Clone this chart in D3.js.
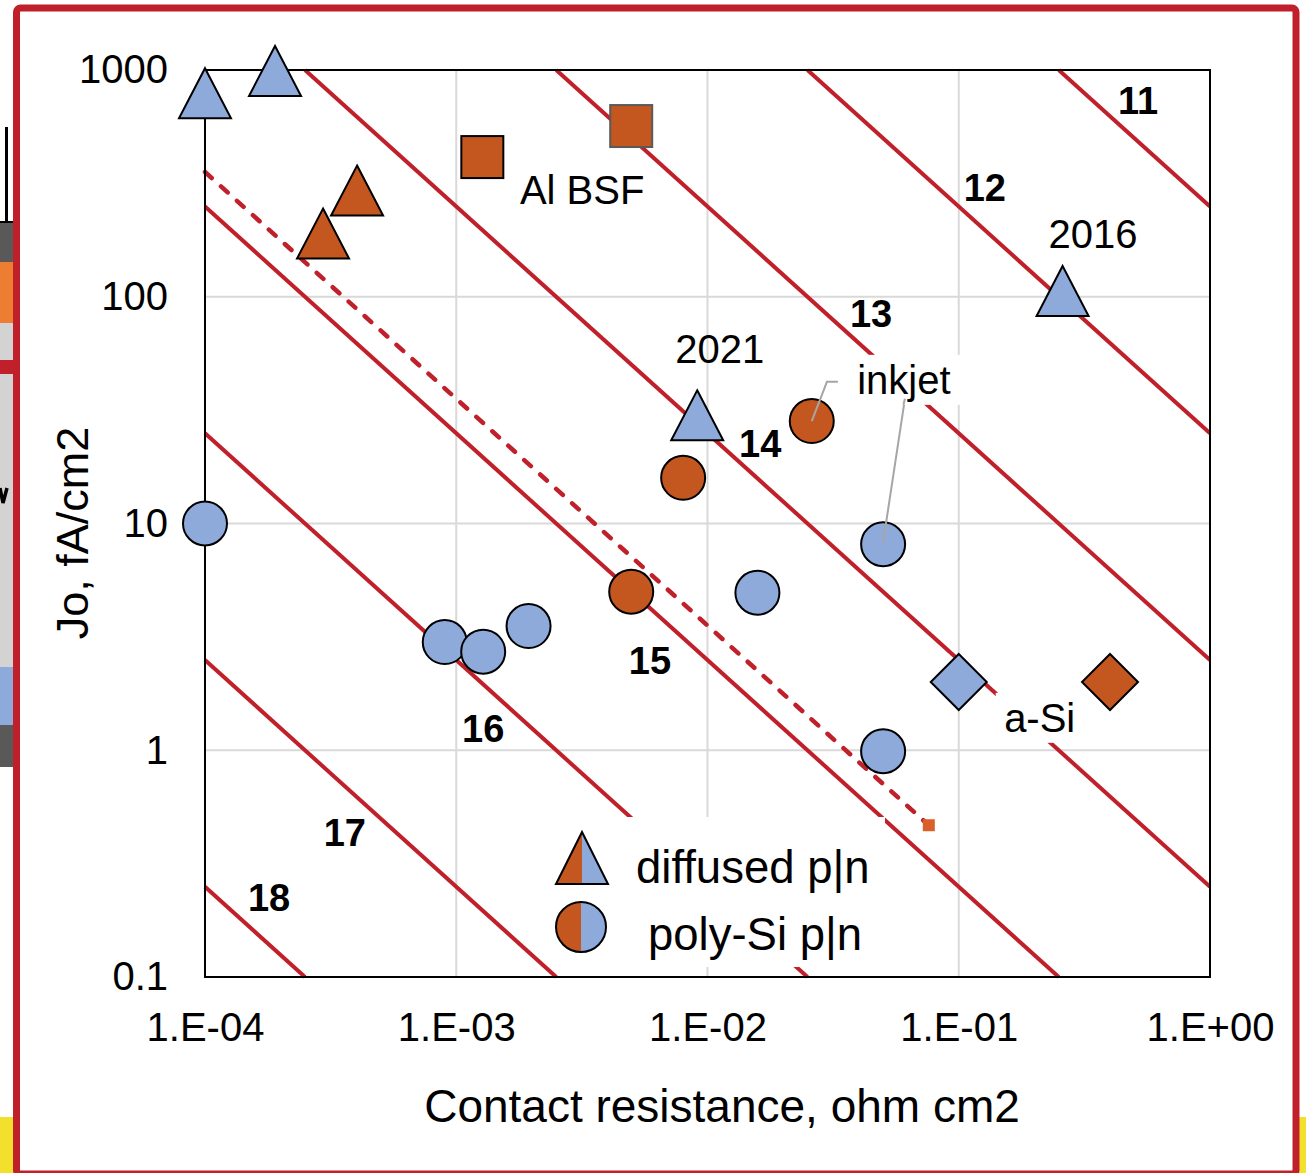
<!DOCTYPE html>
<html>
<head>
<meta charset="utf-8">
<script src="https://cdn.jsdelivr.net/npm/d3@7"></script>
<style>
  body { margin: 0; background: #fff; }
  text { font-family: "Liberation Sans", Arial, sans-serif; fill: #000; }
</style>
</head>
<body>
<div id="chart"></div>
<script>
// ---- data (contact resistance in ohm cm2, Jo in fA/cm2) ----
var xTicks = [1e-4, 1e-3, 1e-2, 1e-1, 1];
var yTicks = [0.1, 1, 10, 100, 1000];

// iso lines: Rc * Jo = const
var isoProducts = [2.5e-5, 2.5e-4, 2.5e-3, 2.5e-2, 0.25, 2.5, 25, 250];
var isoLabels = [
  {text: "18", x: 1.8e-4, y: 0.225},
  {text: "17", x: 3.6e-4, y: 0.436},
  {text: "16", x: 1.28e-3, y: 1.25},
  {text: "15", x: 5.9e-3, y: 2.5},
  {text: "14", x: 0.0162, y: 22.6},
  {text: "13", x: 0.0448, y: 84.7},
  {text: "12", x: 0.127, y: 305},
  {text: "11", x: 0.517, y: 738}
];
var dashedLine = [[1e-4, 355], [0.076, 0.467]];

var blueTriangles   = [[1e-4, 790], [1.9e-4, 990], [9.1e-3, 30], [0.259, 106]];
var orangeTriangles = [[2.95e-4, 190], [4.03e-4, 294]];
var orangeSquares   = [[1.27e-3, 413], [4.97e-3, 566]];
var blueCircles     = [[1e-4, 10], [9e-4, 3.0], [1.28e-3, 2.72], [1.94e-3, 3.53],
                       [0.0158, 4.95], [0.05, 8.1], [0.05, 0.99]];
var orangeCircles   = [[4.97e-3, 5.0], [8.0e-3, 15.9], [0.026, 28.3]];
var blueDiamonds    = [[0.1, 2.0]];
var orangeDiamonds  = [[0.4, 2.0]];

var annotations = [
  {text: "Al BSF", x: 3.17e-3, y: 296},
  {text: "2021",   x: 0.0112,  y: 58.9},
  {text: "2016",   x: 0.342,   y: 189},
  {text: "inkjet", x: 0.0605,  y: 43},
  {text: "a-Si",   x: 0.21,    y: 1.39}
];
var legendItems = ["diffused p|n", "poly-Si p|n"];

// ---- setup ----
var W = 1306, H = 1173;
var RED = "#c0202a", BLUE = "#8eaadb", ORANGE = "#c4571f";

var svg = d3.select("#chart").append("svg")
  .attr("width", W).attr("height", H);

var x = d3.scaleLog().domain([1e-4, 1]).range([205, 1210]);
var y = d3.scaleLog().domain([0.1, 1000]).range([977, 70]);

// ---- bits of the neighbouring slide, outside the frame ----
var deco = svg.append("g");
deco.append("rect").attr("x", 5).attr("y", 127).attr("width", 3).attr("height", 96).attr("fill", "#000");
deco.append("rect").attr("x", 0).attr("y", 222).attr("width", 14).attr("height", 40).attr("fill", "#595959");
deco.append("rect").attr("x", 0).attr("y", 221).attr("width", 14).attr("height", 2).attr("fill", "#000");
deco.append("rect").attr("x", 0).attr("y", 262).attr("width", 14).attr("height", 61).attr("fill", "#ed7d31");
deco.append("rect").attr("x", 0).attr("y", 323).attr("width", 14).attr("height", 344).attr("fill", "#d3d3d3");
deco.append("rect").attr("x", 0).attr("y", 360).attr("width", 14).attr("height", 14).attr("fill", RED);
deco.append("path").attr("d", "M0,488L3,503L7,488").attr("fill", "none")
  .attr("stroke", "#000").attr("stroke-width", 3.5);
deco.append("rect").attr("x", 0).attr("y", 667).attr("width", 14).attr("height", 58).attr("fill", BLUE);
deco.append("rect").attr("x", 0).attr("y", 725).attr("width", 14).attr("height", 42).attr("fill", "#595959");
deco.append("rect").attr("x", 0).attr("y", 1117).attr("width", 14).attr("height", 60).attr("fill", "#f3e02c");
deco.append("rect").attr("x", 1298).attr("y", 1117).attr("width", 10).attr("height", 60).attr("fill", "#f3e02c");

// slide frame
svg.append("rect")
  .attr("x", 16.5).attr("y", 8).attr("width", 1279.5).attr("height", 1166)
  .attr("rx", 4)
  .attr("fill", "#fff").attr("stroke", RED).attr("stroke-width", 7);

// ---- grid ----
svg.append("g").selectAll("line").data(xTicks.slice(1, -1)).enter().append("line")
  .attr("x1", d => x(d)).attr("x2", d => x(d))
  .attr("y1", y(0.1)).attr("y2", y(1000))
  .attr("stroke", "#d9d9d9").attr("stroke-width", 2);
svg.append("g").selectAll("line").data(yTicks.slice(1, -1)).enter().append("line")
  .attr("x1", x(1e-4)).attr("x2", x(1))
  .attr("y1", d => y(d)).attr("y2", d => y(d))
  .attr("stroke", "#d9d9d9").attr("stroke-width", 2);

// ---- iso lines ----
var isoG = svg.append("g");
isoProducts.forEach(function(p) {
  var x0 = Math.max(1e-4, p / 1000), x1 = Math.min(1, p / 0.1);
  isoG.append("line")
    .attr("x1", x(x0)).attr("y1", y(p / x0))
    .attr("x2", x(x1)).attr("y2", y(p / x1))
    .attr("stroke", RED).attr("stroke-width", 4);
});
svg.append("path")
  .attr("d", d3.line().x(d => x(d[0])).y(d => y(d[1]))(dashedLine))
  .attr("fill", "none").attr("stroke", RED).attr("stroke-width", 4.5)
  .attr("stroke-dasharray", "9,12.5").attr("stroke-linecap", "round");
var last = dashedLine[dashedLine.length - 1];
svg.append("rect")
  .attr("x", x(last[0]) - 6).attr("y", y(last[1]) - 6)
  .attr("width", 12).attr("height", 12).attr("fill", "#d9602a");

// plot frame
svg.append("rect")
  .attr("x", x(1e-4)).attr("y", y(1000))
  .attr("width", x(1) - x(1e-4)).attr("height", y(0.1) - y(1000))
  .attr("fill", "none").attr("stroke", "#000").attr("stroke-width", 2);

// ---- axes ----
var fmtX = function(d) {
  var e = Math.round(Math.log10(d));
  return "1.E" + (e < 0 ? "-" : "+") + String(Math.abs(e)).padStart(2, "0");
};
var xAxis = svg.append("g")
  .attr("transform", "translate(0," + y(0.1) + ")")
  .call(d3.axisBottom(x).tickValues(xTicks).tickFormat(fmtX).tickSize(0).tickPadding(36));
var yAxis = svg.append("g")
  .attr("transform", "translate(" + x(1e-4) + ",0)")
  .call(d3.axisLeft(y).tickValues(yTicks).tickFormat(d => String(d)).tickSize(0).tickPadding(37));
[xAxis, yAxis].forEach(function(a) {
  a.select(".domain").remove();
  a.selectAll("text").attr("font-size", 40).attr("font-family", null).attr("fill", "#000");
});

svg.append("text")
  .attr("x", 722).attr("y", 1122).attr("text-anchor", "middle")
  .attr("font-size", 46).text("Contact resistance, ohm cm2");
svg.append("text")
  .attr("transform", "translate(88,533) rotate(-90)").attr("text-anchor", "middle")
  .attr("font-size", 45).text("Jo, fA/cm2");

// ---- markers ----
var triPath = "M0,-25L26,25L-26,25Z";
var diaPath = "M0,-28L28,0L0,28L-28,0Z";
var marks = svg.append("g");
function drawPath(data, path, fill) {
  marks.selectAll(null).data(data).enter().append("path")
    .attr("d", path)
    .attr("transform", d => "translate(" + x(d[0]) + "," + y(d[1]) + ")")
    .attr("fill", fill).attr("stroke", "#000").attr("stroke-width", 2);
}
drawPath(blueTriangles, triPath, BLUE);
drawPath(orangeTriangles, triPath, ORANGE);
drawPath(blueDiamonds, diaPath, BLUE);
drawPath(orangeDiamonds, diaPath, ORANGE);
marks.selectAll(null).data(orangeSquares).enter().append("rect")
  .attr("x", d => x(d[0]) - 21).attr("y", d => y(d[1]) - 21)
  .attr("width", 42).attr("height", 42)
  .attr("fill", ORANGE)
  .attr("stroke", (d, i) => i === 1 ? "#5a5a5a" : "#000").attr("stroke-width", 2);
marks.selectAll(null).data(blueCircles).enter().append("circle")
  .attr("cx", d => x(d[0])).attr("cy", d => y(d[1])).attr("r", 22)
  .attr("fill", BLUE).attr("stroke", "#000").attr("stroke-width", 2);
marks.selectAll(null).data(orangeCircles).enter().append("circle")
  .attr("cx", d => x(d[0])).attr("cy", d => y(d[1])).attr("r", 22)
  .attr("fill", ORANGE).attr("stroke", "#000").attr("stroke-width", 2);

// ---- annotations ----
var ink = annotations[3];
var ix = x(ink.x), iy = y(ink.y);
var oc = orangeCircles[2], bc = blueCircles[5];
svg.append("path")
  .attr("d", "M" + x(oc[0]) + "," + y(oc[1]) + "L" + (ix - 77) + "," + (iy + 2) + "L" + (ix - 66) + "," + (iy + 2))
  .attr("fill", "none").attr("stroke", "#a6a6a6").attr("stroke-width", 2);
svg.append("path")
  .attr("d", "M" + x(bc[0]) + "," + (y(bc[1]) - 2) + "L" + (ix + 1) + "," + (iy + 19))
  .attr("fill", "none").attr("stroke", "#a6a6a6").attr("stroke-width", 2);

var boxed = {"inkjet": [62, 25], "a-Si": [44, 25]};
var annG = svg.append("g");
annotations.forEach(function(a) {
  var px = x(a.x), py = y(a.y);
  if (boxed[a.text]) {
    var b = boxed[a.text];
    annG.append("rect")
      .attr("x", px - b[0]).attr("y", py - b[1])
      .attr("width", 2 * b[0]).attr("height", 2 * b[1])
      .attr("fill", "#fff");
  }
  annG.append("text")
    .attr("x", px).attr("y", py).attr("dy", "0.36em")
    .attr("text-anchor", "middle").attr("font-size", 40)
    .text(a.text);
});
// leader end touching the inkjet text
svg.append("line")
  .attr("x1", ix + 1).attr("y1", iy + 19).attr("x2", ix - 0.5).attr("y2", iy + 25)
  .attr("stroke", "#a6a6a6").attr("stroke-width", 2);

svg.append("g").selectAll("text").data(isoLabels).enter().append("text")
  .attr("x", d => x(d.x)).attr("y", d => y(d.y)).attr("dy", "0.36em")
  .attr("text-anchor", "middle").attr("font-size", 38).attr("font-weight", "bold")
  .text(d => d.text);

// ---- legend ----
var lg = svg.append("g").attr("transform", "translate(560,817)");
lg.append("rect").attr("width", 325).attr("height", 150).attr("fill", "#fff");
var tri = lg.append("g").attr("transform", "translate(22,41)");
tri.append("path").attr("d", "M0,-26L0,26L-26,26Z").attr("fill", ORANGE);
tri.append("path").attr("d", "M0,-26L26,26L0,26Z").attr("fill", BLUE);
tri.append("path").attr("d", "M0,-26L26,26L-26,26Z").attr("fill", "none").attr("stroke", "#000").attr("stroke-width", 2);
var cir = lg.append("g").attr("transform", "translate(21,110)");
cir.append("path").attr("d", "M0,-25A25,25 0 0,0 0,25Z").attr("fill", ORANGE);
cir.append("path").attr("d", "M0,-25A25,25 0 0,1 0,25Z").attr("fill", BLUE);
cir.append("circle").attr("r", 25).attr("fill", "none").attr("stroke", "#000").attr("stroke-width", 2);
lg.append("text").attr("x", 76).attr("y", 66).attr("font-size", 45.5).text(legendItems[0]);
lg.append("text").attr("x", 88).attr("y", 133).attr("font-size", 45.5).text(legendItems[1]);
</script>
</body>
</html>
